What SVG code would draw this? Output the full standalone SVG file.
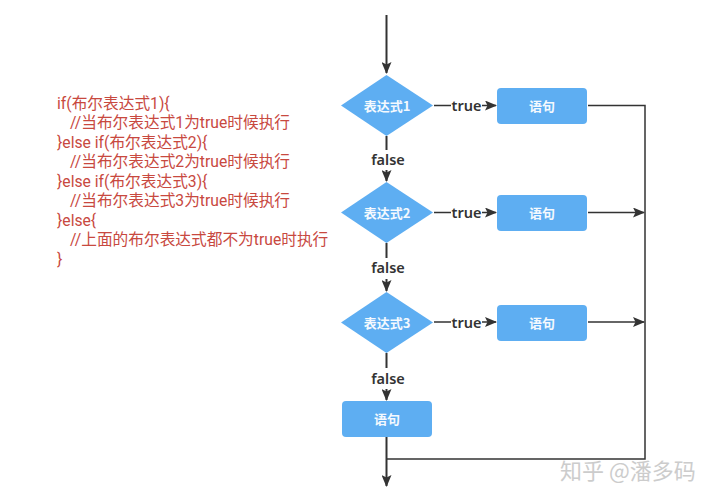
<svg xmlns="http://www.w3.org/2000/svg" width="712" height="500" viewBox="0 0 712 500">
<style>
.n{fill:#5eaef2}
.nt{font:bold 13px "Noto Sans CJK SC","Noto Sans",sans-serif;fill:#f4f9fe;text-anchor:middle}
.lb{font:600 14.500px "Noto Sans","Noto Sans CJK SC",sans-serif;fill:#333;text-anchor:middle}
.c{font:15.700px Roboto,"Noto Sans CJK SC",sans-serif;fill:#c8493f}
.l{fill:none;stroke:#333;stroke-width:2}
.t{fill:none;stroke:#333;stroke-width:1.5}
.wm{font:22px "Noto Sans CJK SC",sans-serif;fill:#c4c4c4;opacity:.85}
</style>
<defs>
<marker id="a" viewBox="0 0 12 10" refX="11" refY="5" markerWidth="12" markerHeight="10" markerUnits="userSpaceOnUse" orient="auto"><path d="M0 0L12 5L0 10L2.500 5Z" fill="#333"/></marker>
</defs>
<rect width="712" height="500" fill="#fff"/>
<g id="code">
<text class="c" x="57" y="108.500">if(布尔表达式1){</text>
<text class="c" x="70" y="128">//当布尔表达式1为true时候执行</text>
<text class="c" x="57" y="147.500">}else if(布尔表达式2){</text>
<text class="c" x="70" y="167">//当布尔表达式2为true时候执行</text>
<text class="c" x="57" y="186.500">}else if(布尔表达式3){</text>
<text class="c" x="70" y="206">//当布尔表达式3为true时候执行</text>
<text class="c" x="57" y="225.500">}else{</text>
<text class="c" x="70" y="245">//上面的布尔表达式都不为true时执行</text>
<text class="c" x="57" y="264.500">}</text>
</g>
<g id="connectors">
<path class="l" d="M386.500 15V73" marker-end="url(#a)"/>
<path class="l" d="M386.500 136V150M386.500 170V181" marker-end="url(#a)"/>
<path class="l" d="M386.500 243V258M386.500 279V291" marker-end="url(#a)"/>
<path class="l" d="M386.500 353V368M386.500 389V400" marker-end="url(#a)"/>
<path class="l" d="M386.500 437V486" marker-end="url(#a)"/>
<path class="t" d="M434 105.500H451M482 105.500H496" marker-end="url(#a)"/>
<path class="t" d="M434 212.500H451M482 212.500H496" marker-end="url(#a)"/>
<path class="t" d="M434 322H451M482 322H496" marker-end="url(#a)"/>
<path class="t" d="M588 105.500H645V459H387"/>
<path class="t" d="M588 212.500H644" marker-end="url(#a)"/>
<path class="t" d="M588 322H644" marker-end="url(#a)"/>
<text class="lb" x="466.500" y="111">true</text>
<text class="lb" x="466.500" y="218">true</text>
<text class="lb" x="466.500" y="328">true</text>
<text class="lb" x="388" y="165">false</text>
<text class="lb" x="388" y="273">false</text>
<text class="lb" x="388" y="384">false</text>
</g>
<g id="d1"><polygon class="n" points="341,105.500 386.500,75 433,105.500 386.500,136"/><text class="nt" x="387" y="111">表达式1</text></g>
<g id="d2"><polygon class="n" points="341,212.500 386.500,182 433,212.500 386.500,243"/><text class="nt" x="387" y="218">表达式2</text></g>
<g id="d3"><polygon class="n" points="341,322.500 386.500,292 433,322.500 386.500,353"/><text class="nt" x="387" y="328">表达式3</text></g>
<g id="s1"><rect class="n" x="497" y="88" width="90" height="36" rx="4"/><text class="nt" x="542" y="111">语句</text></g>
<g id="s2"><rect class="n" x="497" y="195" width="90" height="36" rx="4"/><text class="nt" x="542" y="218">语句</text></g>
<g id="s3"><rect class="n" x="497" y="305" width="90" height="36" rx="4"/><text class="nt" x="542" y="328">语句</text></g>
<g id="s4"><rect class="n" x="342" y="401" width="90" height="36" rx="4"/><text class="nt" x="387" y="424">语句</text></g>
<text class="wm" x="560" y="479">知乎 @潘多码</text>
</svg>
